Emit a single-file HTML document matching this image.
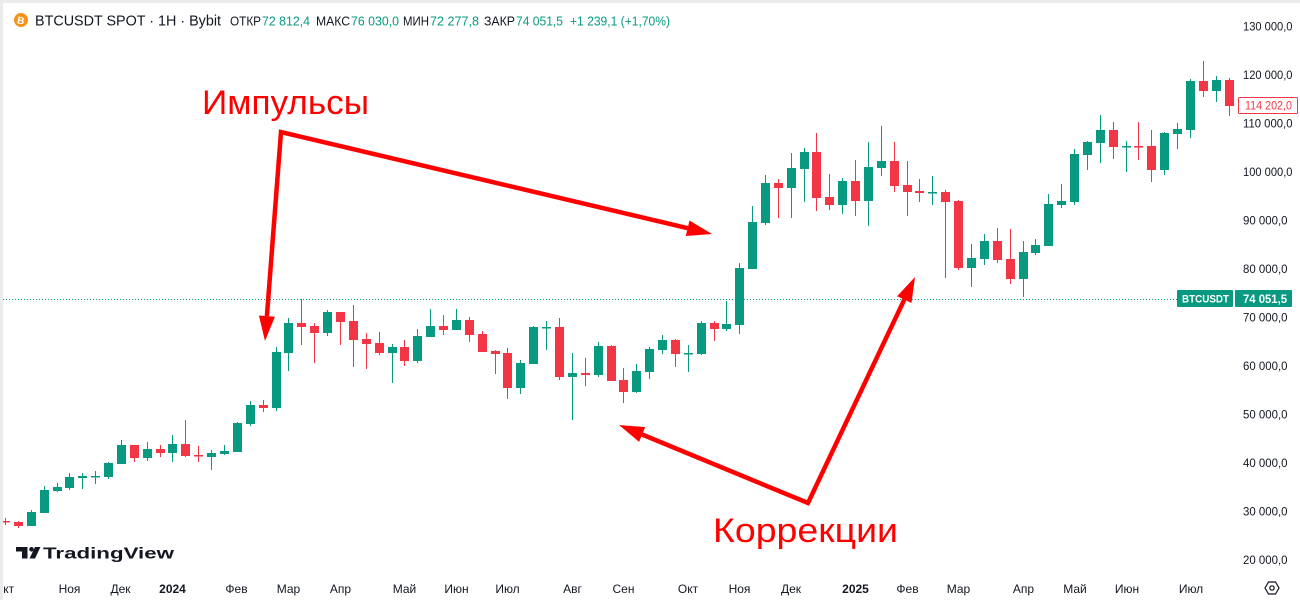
<!DOCTYPE html>
<html>
<head>
<meta charset="utf-8">
<style>
  html,body{margin:0;padding:0;background:#fff;}
  svg{display:block;}
  text{font-family:"Liberation Sans","DejaVu Sans",sans-serif;}
</style>
</head>
<body>
<svg width="1300" height="600" viewBox="0 0 1300 600" xmlns="http://www.w3.org/2000/svg">
  <rect x="0" y="0" width="1300" height="600" fill="#ffffff"/>

  <!-- dotted last-price line -->
  <line x1="3" y1="299.5" x2="1177" y2="299.5" stroke="#089981" stroke-width="1" stroke-dasharray="1 2"/>

  <!-- green candles -->
  <g fill="#089981">
    <rect x="31" y="510" width="1" height="16"/><rect x="27" y="512" width="9" height="14"/>
    <rect x="44" y="486" width="1" height="27"/><rect x="40" y="490" width="9" height="23"/>
    <rect x="57" y="483" width="1" height="9"/><rect x="53" y="487" width="9" height="4"/>
    <rect x="69" y="473" width="1" height="17"/><rect x="65" y="477" width="9" height="11"/>
    <rect x="82" y="473" width="1" height="16"/><rect x="78" y="476" width="9" height="2"/>
    <rect x="95" y="471" width="1" height="13"/><rect x="91" y="476" width="9" height="1.5"/>
    <rect x="108" y="462" width="1" height="17"/><rect x="104" y="463" width="9" height="14"/>
    <rect x="121" y="440" width="1" height="24"/><rect x="117" y="445" width="9" height="19"/>
    <rect x="147" y="442" width="1" height="19"/><rect x="143" y="449" width="9" height="9"/>
    <rect x="172" y="435" width="1" height="27"/><rect x="168" y="444" width="9" height="9"/>
    <rect x="211" y="450" width="1" height="20"/><rect x="207" y="453" width="9" height="4"/>
    <rect x="224" y="445" width="1" height="10"/><rect x="220" y="451" width="9" height="3"/>
    <rect x="237" y="422" width="1" height="30"/><rect x="233" y="423" width="9" height="29"/>
    <rect x="250" y="401" width="1" height="25"/><rect x="246" y="405" width="9" height="19"/>
    <rect x="276" y="347" width="1" height="64"/><rect x="272" y="352" width="9" height="56"/>
    <rect x="288" y="318" width="1" height="53"/><rect x="284" y="323" width="9" height="30"/>
    <rect x="327" y="310" width="1" height="26"/><rect x="323" y="312" width="9" height="21"/>
    <rect x="392" y="344" width="1" height="39"/><rect x="388" y="347" width="9" height="6"/>
    <rect x="417" y="329" width="1" height="34"/><rect x="413" y="336" width="9" height="25"/>
    <rect x="430" y="309" width="1" height="28"/><rect x="426" y="326" width="9" height="11"/>
    <rect x="456" y="309" width="1" height="21"/><rect x="452" y="320" width="9" height="10"/>
    <rect x="520" y="360" width="1" height="34"/><rect x="516" y="363" width="9" height="25"/>
    <rect x="533" y="326" width="1" height="38"/><rect x="529" y="327" width="9" height="37"/>
    <rect x="546" y="321" width="1" height="29"/><rect x="542" y="327" width="9" height="1.5"/>
    <rect x="572" y="353" width="1" height="67"/><rect x="568" y="373" width="9" height="4"/>
    <rect x="598" y="342" width="1" height="35"/><rect x="594" y="346" width="9" height="29"/>
    <rect x="636" y="364" width="1" height="29"/><rect x="632" y="371" width="9" height="21"/>
    <rect x="649" y="347" width="1" height="32"/><rect x="645" y="349" width="9" height="23"/>
    <rect x="662" y="335" width="1" height="19"/><rect x="658" y="340" width="9" height="10"/>
    <rect x="688" y="345" width="1" height="27"/><rect x="684" y="353" width="9" height="1.5"/>
    <rect x="701" y="321" width="1" height="34"/><rect x="697" y="323" width="9" height="31"/>
    <rect x="726" y="301" width="1" height="30"/><rect x="722" y="324" width="9" height="5"/>
    <rect x="739" y="263" width="1" height="71"/><rect x="735" y="268" width="9" height="57"/>
    <rect x="752" y="206" width="1" height="63"/><rect x="748" y="222" width="9" height="47"/>
    <rect x="765" y="175" width="1" height="50"/><rect x="761" y="183" width="9" height="40"/>
    <rect x="791" y="153" width="1" height="65"/><rect x="787" y="168" width="9" height="20"/>
    <rect x="804" y="148" width="1" height="54"/><rect x="800" y="152" width="9" height="17"/>
    <rect x="842" y="178" width="1" height="36"/><rect x="838" y="181" width="9" height="24"/>
    <rect x="868" y="142" width="1" height="84"/><rect x="864" y="167" width="9" height="34"/>
    <rect x="881" y="126" width="1" height="50"/><rect x="877" y="161" width="9" height="7"/>
    <rect x="932" y="176" width="1" height="29"/><rect x="928" y="192" width="9" height="1.5"/>
    <rect x="971" y="244" width="1" height="43"/><rect x="967" y="258" width="9" height="10"/>
    <rect x="984" y="234" width="1" height="31"/><rect x="980" y="241" width="9" height="18"/>
    <rect x="1023" y="241" width="1" height="56"/><rect x="1019" y="252" width="9" height="27"/>
    <rect x="1035" y="239" width="1" height="16"/><rect x="1031" y="245" width="9" height="8"/>
    <rect x="1048" y="194" width="1" height="52"/><rect x="1044" y="204" width="9" height="42"/>
    <rect x="1061" y="184" width="1" height="24"/><rect x="1057" y="201" width="9" height="4"/>
    <rect x="1074" y="149" width="1" height="56"/><rect x="1070" y="154" width="9" height="48"/>
    <rect x="1087" y="141" width="1" height="29"/><rect x="1083" y="142" width="9" height="13"/>
    <rect x="1100" y="115" width="1" height="48"/><rect x="1096" y="130" width="9" height="13"/>
    <rect x="1126" y="141" width="1" height="31"/><rect x="1122" y="146" width="9" height="1.5"/>
    <rect x="1164" y="132" width="1" height="43"/><rect x="1160" y="133" width="9" height="37"/>
    <rect x="1177" y="123" width="1" height="26"/><rect x="1173" y="129" width="9" height="5"/>
    <rect x="1190" y="79" width="1" height="59"/><rect x="1186" y="81" width="9" height="49"/>
    <rect x="1216" y="76" width="1" height="26"/><rect x="1212" y="80" width="9" height="11"/>
  </g>

  <!-- red candles -->
  <g fill="#F23645">
    <rect x="5" y="518" width="1" height="7"/><rect x="1" y="521" width="9" height="1.5"/>
    <rect x="18" y="521" width="1" height="7"/><rect x="14" y="522" width="9" height="4"/>
    <rect x="134" y="445" width="1" height="17"/><rect x="130" y="445" width="9" height="13"/>
    <rect x="160" y="445" width="1" height="12"/><rect x="156" y="449" width="9" height="4"/>
    <rect x="185" y="420" width="1" height="37"/><rect x="181" y="444" width="9" height="12"/>
    <rect x="198" y="446" width="1" height="16"/><rect x="194" y="455" width="9" height="1.5"/>
    <rect x="263" y="400" width="1" height="12"/><rect x="259" y="405" width="9" height="3"/>
    <rect x="301" y="299" width="1" height="46"/><rect x="297" y="323" width="9" height="4"/>
    <rect x="314" y="323" width="1" height="40"/><rect x="310" y="326" width="9" height="7"/>
    <rect x="340" y="312" width="1" height="33"/><rect x="336" y="312" width="9" height="10"/>
    <rect x="353" y="305" width="1" height="62"/><rect x="349" y="321" width="9" height="19"/>
    <rect x="366" y="333" width="1" height="36"/><rect x="362" y="339" width="9" height="5"/>
    <rect x="379" y="332" width="1" height="23"/><rect x="375" y="343" width="9" height="10"/>
    <rect x="404" y="340" width="1" height="26"/><rect x="400" y="347" width="9" height="14"/>
    <rect x="443" y="315" width="1" height="20"/><rect x="439" y="326" width="9" height="4"/>
    <rect x="469" y="317" width="1" height="25"/><rect x="465" y="320" width="9" height="15"/>
    <rect x="482" y="331" width="1" height="21"/><rect x="478" y="334" width="9" height="18"/>
    <rect x="495" y="350" width="1" height="24"/><rect x="491" y="351" width="9" height="3"/>
    <rect x="507" y="348" width="1" height="51"/><rect x="503" y="353" width="9" height="35"/>
    <rect x="559" y="318" width="1" height="62"/><rect x="555" y="327" width="9" height="50"/>
    <rect x="585" y="358" width="1" height="28"/><rect x="581" y="373" width="9" height="2"/>
    <rect x="611" y="345" width="1" height="36"/><rect x="607" y="346" width="9" height="35"/>
    <rect x="623" y="368" width="1" height="35"/><rect x="619" y="380" width="9" height="12"/>
    <rect x="675" y="339" width="1" height="28"/><rect x="671" y="340" width="9" height="14"/>
    <rect x="714" y="321" width="1" height="20"/><rect x="710" y="323" width="9" height="6"/>
    <rect x="778" y="179" width="1" height="39"/><rect x="774" y="183" width="9" height="5"/>
    <rect x="816" y="133" width="1" height="78"/><rect x="812" y="152" width="9" height="46"/>
    <rect x="829" y="174" width="1" height="36"/><rect x="825" y="197" width="9" height="8"/>
    <rect x="855" y="160" width="1" height="56"/><rect x="851" y="181" width="9" height="20"/>
    <rect x="894" y="142" width="1" height="50"/><rect x="890" y="161" width="9" height="25"/>
    <rect x="907" y="161" width="1" height="55"/><rect x="903" y="185" width="9" height="7"/>
    <rect x="919" y="179" width="1" height="23"/><rect x="915" y="191" width="9" height="2"/>
    <rect x="945" y="190" width="1" height="88"/><rect x="941" y="192" width="9" height="10"/>
    <rect x="958" y="200" width="1" height="70"/><rect x="954" y="201" width="9" height="67"/>
    <rect x="997" y="228" width="1" height="35"/><rect x="993" y="241" width="9" height="19"/>
    <rect x="1010" y="229" width="1" height="55"/><rect x="1006" y="259" width="9" height="20"/>
    <rect x="1113" y="122" width="1" height="37"/><rect x="1109" y="130" width="9" height="17"/>
    <rect x="1138" y="122" width="1" height="38"/><rect x="1134" y="146" width="9" height="1.5"/>
    <rect x="1151" y="130" width="1" height="52"/><rect x="1147" y="146" width="9" height="24"/>
    <rect x="1203" y="61" width="1" height="36"/><rect x="1199" y="81" width="9" height="10"/>
    <rect x="1229" y="78" width="1" height="38"/><rect x="1225" y="80" width="9" height="26"/>
  </g>

  <!-- arrows -->
  <g stroke="#ff0000" stroke-width="4.5" fill="none" stroke-linejoin="miter" stroke-linecap="butt">
    <polyline points="266.9,316.1 281,132 687.7,228.2"/>
    <polyline points="642.1,434.5 808,503 904.3,299.6"/>
  </g>
  <g fill="#ff0000">
    <polygon points="265,341 274.9,316.7 258.9,315.5"/>
    <polygon points="712,234 685.8,236.0 689.5,220.5"/>
    <polygon points="619,425 645.2,427.1 639.1,441.9"/>
    <polygon points="915,277 911.5,303.0 897.1,296.2"/>
  </g>

  <!-- annotation texts -->
  <text x="202" y="114" font-size="34" fill="#ff0000" textLength="167" lengthAdjust="spacingAndGlyphs">Импульсы</text>
  <text x="713" y="542" font-size="34" fill="#ff0000" textLength="185" lengthAdjust="spacingAndGlyphs">Коррекции</text>

  <!-- right price scale -->
  <g font-size="12" fill="#131722">
    <text x="1243" y="30.5" textLength="49.5" lengthAdjust="spacingAndGlyphs">130 000,0</text>
    <text x="1243" y="79" textLength="49.5" lengthAdjust="spacingAndGlyphs">120 000,0</text>
    <text x="1243" y="127.5" textLength="49.5" lengthAdjust="spacingAndGlyphs">110 000,0</text>
    <text x="1243" y="176" textLength="49.5" lengthAdjust="spacingAndGlyphs">100 000,0</text>
    <text x="1243" y="224.5" textLength="44.5" lengthAdjust="spacingAndGlyphs">90 000,0</text>
    <text x="1243" y="273" textLength="44.5" lengthAdjust="spacingAndGlyphs">80 000,0</text>
    <text x="1243" y="321.5" textLength="44.5" lengthAdjust="spacingAndGlyphs">70 000,0</text>
    <text x="1243" y="370" textLength="44.5" lengthAdjust="spacingAndGlyphs">60 000,0</text>
    <text x="1243" y="418.5" textLength="44.5" lengthAdjust="spacingAndGlyphs">50 000,0</text>
    <text x="1243" y="467" textLength="44.5" lengthAdjust="spacingAndGlyphs">40 000,0</text>
    <text x="1243" y="515.5" textLength="44.5" lengthAdjust="spacingAndGlyphs">30 000,0</text>
    <text x="1243" y="564" textLength="44.5" lengthAdjust="spacingAndGlyphs">20 000,0</text>
  </g>

  <!-- current price label (red) -->
  <rect x="1238.5" y="97.5" width="59" height="16" fill="#ffffff" stroke="#F23645" stroke-width="1" rx="1"/>
  <text x="1245" y="109.5" font-size="12" fill="#F23645" textLength="47" lengthAdjust="spacingAndGlyphs">114 202,0</text>

  <!-- BTCUSDT label -->
  <rect x="1177" y="290" width="56" height="17" fill="#089981" rx="1"/>
  <rect x="1235" y="290" width="57" height="17" fill="#089981" rx="1"/>
  <text x="1182" y="302.5" font-size="11" font-weight="bold" fill="#ffffff" textLength="47" lengthAdjust="spacingAndGlyphs">BTCUSDT</text>
  <text x="1243" y="303" font-size="12" font-weight="bold" fill="#ffffff" textLength="44" lengthAdjust="spacingAndGlyphs">74 051,5</text>

  <!-- time axis -->
  <g font-size="12" fill="#131722" text-anchor="middle">
    <text x="4" y="593">Окт</text>
    <text x="69.5" y="593">Ноя</text>
    <text x="120.5" y="593">Дек</text>
    <text x="172.5" y="593" font-weight="bold">2024</text>
    <text x="236.5" y="593">Фев</text>
    <text x="288.5" y="593">Мар</text>
    <text x="340.5" y="593">Апр</text>
    <text x="404.5" y="593">Май</text>
    <text x="456.5" y="593">Июн</text>
    <text x="507.5" y="593">Июл</text>
    <text x="572.5" y="593">Авг</text>
    <text x="623.5" y="593">Сен</text>
    <text x="688" y="593">Окт</text>
    <text x="739.5" y="593">Ноя</text>
    <text x="791" y="593">Дек</text>
    <text x="855.5" y="593" font-weight="bold">2025</text>
    <text x="907.5" y="593">Фев</text>
    <text x="958.5" y="593">Мар</text>
    <text x="1023.5" y="593">Апр</text>
    <text x="1075" y="593">Май</text>
    <text x="1127" y="593">Июн</text>
    <text x="1191" y="593">Июл</text>
  </g>

  <!-- gear icon -->
  <g transform="translate(1272,588)" fill="none" stroke="#131722" stroke-width="1.2">
    <polygon points="-7,0 -3.5,-6 3.5,-6 7,0 3.5,6 -3.5,6"/>
    <circle cx="0" cy="0" r="2.2"/>
  </g>

  <!-- TradingView logo -->
  <g fill="#131722">
    <polygon points="16,547 27.5,547 27.5,558.5 22,558.5 22,551.5 16,551.5"/>
    <circle cx="31.5" cy="549.3" r="2.3"/>
    <polygon points="35,547 40.5,547 35,558.5 29.5,558.5"/>
    <text x="43" y="558.5" font-size="16" font-weight="bold" textLength="131" lengthAdjust="spacingAndGlyphs">TradingView</text>
  </g>

  <!-- header -->
  <circle cx="21" cy="20" r="7" fill="#F7931A"/>
  <text x="21" y="24" font-size="10" font-weight="bold" fill="#ffffff" text-anchor="middle" transform="rotate(12 21 20)">B</text>
  <text x="35" y="25.5" font-size="14.5" fill="#131722" textLength="186" lengthAdjust="spacingAndGlyphs">BTCUSDT SPOT · 1H · Bybit</text>
  <g font-size="12.5">
    <text x="230" y="25.5" fill="#131722" textLength="31" lengthAdjust="spacingAndGlyphs">ОТКР</text>
    <text x="262" y="25.5" fill="#089981" textLength="48" lengthAdjust="spacingAndGlyphs">72 812,4</text>
    <text x="316" y="25.5" fill="#131722" textLength="34" lengthAdjust="spacingAndGlyphs">МАКС</text>
    <text x="351" y="25.5" fill="#089981" textLength="48" lengthAdjust="spacingAndGlyphs">76 030,0</text>
    <text x="403" y="25.5" fill="#131722" textLength="26" lengthAdjust="spacingAndGlyphs">МИН</text>
    <text x="430" y="25.5" fill="#089981" textLength="49" lengthAdjust="spacingAndGlyphs">72 277,8</text>
    <text x="484" y="25.5" fill="#131722" textLength="31" lengthAdjust="spacingAndGlyphs">ЗАКР</text>
    <text x="516" y="25.5" fill="#089981" textLength="47" lengthAdjust="spacingAndGlyphs">74 051,5</text>
    <text x="570" y="25.5" fill="#089981" textLength="100" lengthAdjust="spacingAndGlyphs">+1 239,1 (+1,70%)</text>
  </g>

  <!-- frame strips -->
  <rect x="0" y="0" width="1300" height="3" fill="#ebebeb"/>
  <rect x="0" y="0" width="3" height="600" fill="#ebebeb"/>
</svg>
</body>
</html>
